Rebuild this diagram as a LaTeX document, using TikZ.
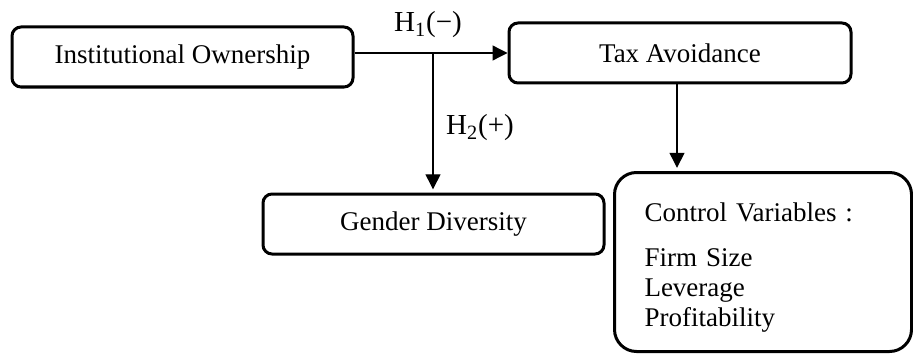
\documentclass[tikz,border=0pt]{standalone}
\usepackage{fontspec}
\setmainfont{Liberation Serif}
\usetikzlibrary{arrows.meta}
\tikzset{
  box/.style={draw, line width=1.5pt, rounded corners=4.5pt, minimum width=170.5pt, minimum height=30pt, inner sep=0pt, font=\fontsize{13.5}{15}\selectfont},
  bigbox/.style={draw, line width=1.5pt, rounded corners=11pt, minimum width=148.5pt, minimum height=89.5pt, inner sep=0pt},
  boxtext/.style={text width=118.5pt, align=left, inner sep=0pt, font=\fontsize{13.5}{15}\selectfont},
  conn/.style={line width=0.65pt, -{Triangle[width=7.5pt,length=7.5pt]}},
  lbl/.style={font=\fontsize{14.5}{16}\selectfont, inner sep=0pt}
}
\begin{document}
\begin{tikzpicture}[x=0.5pt,y=-0.5pt]
\useasboundingbox (0,0) rectangle (913,353);
\node[box] (inst) at (182.5,57) {Institutional Ownership};
\node[box, minimum width=171pt] (tax) at (680,53) {Tax Avoidance};
\node[box] (gender) at (433.5,224) {Gender Diversity};
\node[bigbox] (ctrl) at (763,262) {};
\node[boxtext] (ctrltext) at (763,268) {Control Variables :\\[7.5pt]Firm Size\\Leverage\\Profitability};
\coordinate (j) at (433,53);
\draw[conn] (inst.east |- tax.west) -- (tax.west);
\draw[conn, shorten >=1.6pt] (j) -- (j |- gender.north);
\draw[conn, shorten >=1.6pt] ([xshift=-1.5pt]tax.south) -- ([xshift=-1.5pt]tax.south |- ctrl.north);
\node[lbl] (h1) at (428,25) {H\textsubscript{1}(−)};
\node[lbl] (h2) at (480,128) {H\textsubscript{2}(+)};
\end{tikzpicture}
\end{document}
